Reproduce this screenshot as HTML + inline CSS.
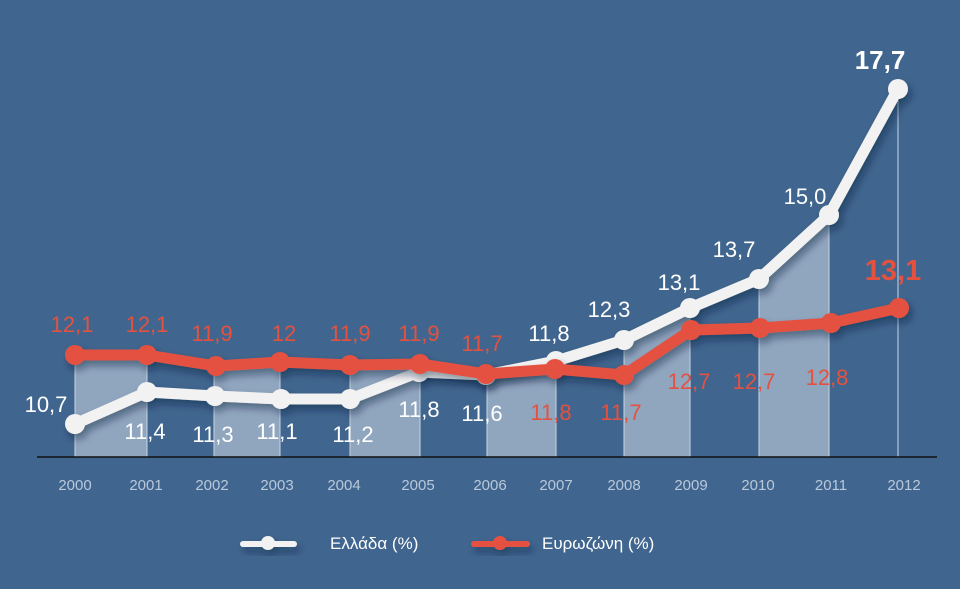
<!DOCTYPE html>
<html><head><meta charset="utf-8"><style>
html,body{margin:0;padding:0;background:#40668f;}
svg{display:block}
text{font-family:"Liberation Sans","DejaVu Sans",sans-serif;}
</style></head><body>
<svg width="960" height="589" viewBox="0 0 960 589" xmlns="http://www.w3.org/2000/svg">
<defs>
<filter id="sh" x="-20%" y="-20%" width="140%" height="160%">
<feDropShadow dx="3" dy="5" stdDeviation="4" flood-color="#0a1a30" flood-opacity="0.45"/>
</filter>
</defs>
<rect width="960" height="589" fill="#40668f"/>
<g fill="#9fb2c8" fill-opacity="0.85" stroke="#c8d4e2" stroke-width="1">
<polygon points="75,355 147,355 147,457 75,457"/>
<polygon points="214,366 280,362 280,457 214,457"/>
<polygon points="350,365 420,364 420,457 350,457"/>
<polygon points="487,374 556,361 556,457 487,457"/>
<polygon points="624,340 690,308 690,457 624,457"/>
<polygon points="759,279 829,215 829,457 759,457"/>
</g>
<line x1="898" y1="89" x2="898" y2="457" stroke="#c8d4e2" stroke-width="1"/>
<line x1="37" y1="457" x2="937" y2="457" stroke="#111" stroke-width="1.5"/>
<g filter="url(#sh)">
<polyline fill="none" stroke="#f2f2f2" stroke-width="11" stroke-linejoin="round" points="75,424 147,392 215,396 281,399 350,399 419,372 486,375 556,361 624,340 690,308 759,279 829,215 898,89"/>
<g fill="#f2f2f2">
<circle cx="75" cy="424" r="10"/><circle cx="147" cy="392" r="10"/><circle cx="215" cy="396" r="10"/><circle cx="281" cy="399" r="10"/><circle cx="350" cy="399" r="10"/><circle cx="419" cy="372" r="10"/><circle cx="486" cy="375" r="10"/><circle cx="556" cy="361" r="10"/><circle cx="624" cy="340" r="10"/><circle cx="690" cy="308" r="10"/><circle cx="759" cy="279" r="10"/><circle cx="829" cy="215" r="10"/><circle cx="898" cy="89" r="10"/>
</g>
</g>
<g filter="url(#sh)">
<polyline fill="none" stroke="#e5513f" stroke-width="11" stroke-linejoin="round" points="75,355 147,355 216,366 280,362 350,365 420,364 486,374 555,369 624,375 691,330 760,328 831,323 899,308"/>
<g fill="#e5513f">
<circle cx="75" cy="355" r="10"/><circle cx="147" cy="355" r="10"/><circle cx="216" cy="366" r="10"/><circle cx="280" cy="362" r="10"/><circle cx="350" cy="365" r="10"/><circle cx="420" cy="364" r="10"/><circle cx="486" cy="374" r="10"/><circle cx="555" cy="369" r="10"/><circle cx="624" cy="375" r="10"/><circle cx="691" cy="330" r="10"/><circle cx="760" cy="328" r="10"/><circle cx="831" cy="323" r="10"/><circle cx="899" cy="308" r="10"/>
</g>
</g>
<g fill="#e5513f" font-size="22" text-anchor="middle">
<text x="72" y="332">12,1</text><text x="147" y="332">12,1</text><text x="212" y="341">11,9</text><text x="284" y="341">12</text><text x="350" y="341">11,9</text><text x="419" y="341">11,9</text><text x="482" y="351">11,7</text><text x="551" y="420">11,8</text><text x="621" y="420">11,7</text><text x="689" y="389">12,7</text><text x="754" y="389">12,7</text><text x="827" y="385">12,8</text>
<text x="893" y="280" font-size="29" font-weight="bold">13,1</text>
</g>
<g fill="#ffffff" font-size="22" text-anchor="middle">
<text x="46" y="412">10,7</text><text x="145" y="439">11,4</text><text x="213" y="442">11,3</text><text x="277" y="439">11,1</text><text x="353" y="442">11,2</text><text x="419" y="417">11,8</text><text x="482" y="421">11,6</text><text x="549" y="341">11,8</text><text x="609" y="317">12,3</text><text x="679" y="290">13,1</text><text x="734" y="257">13,7</text><text x="805" y="204">15,0</text>
<text x="880" y="69" font-size="26" font-weight="bold">17,7</text>
</g>
<g fill="#b9c8da" font-size="15" text-anchor="middle">
<text x="75" y="490">2000</text><text x="146" y="490">2001</text><text x="212" y="490">2002</text><text x="277" y="490">2003</text><text x="344" y="490">2004</text><text x="418" y="490">2005</text><text x="490" y="490">2006</text><text x="556" y="490">2007</text><text x="624" y="490">2008</text><text x="691" y="490">2009</text><text x="758" y="490">2010</text><text x="831" y="490">2011</text><text x="904" y="490">2012</text>
</g>
<g filter="url(#sh)">
<line x1="243" y1="544" x2="294" y2="544" stroke="#f2f2f2" stroke-width="6" stroke-linecap="round"/>
<circle cx="268" cy="543" r="7" fill="#f2f2f2"/>
<line x1="474" y1="544" x2="527" y2="544" stroke="#e5513f" stroke-width="6" stroke-linecap="round"/>
<circle cx="500" cy="543" r="7" fill="#e5513f"/>
</g>
<g fill="#ffffff" font-size="17">
<text x="330" y="549">Ελλάδα (%)</text>
<text x="542" y="549">Ευρωζώνη (%)</text>
</g>
</svg>
</body></html>
